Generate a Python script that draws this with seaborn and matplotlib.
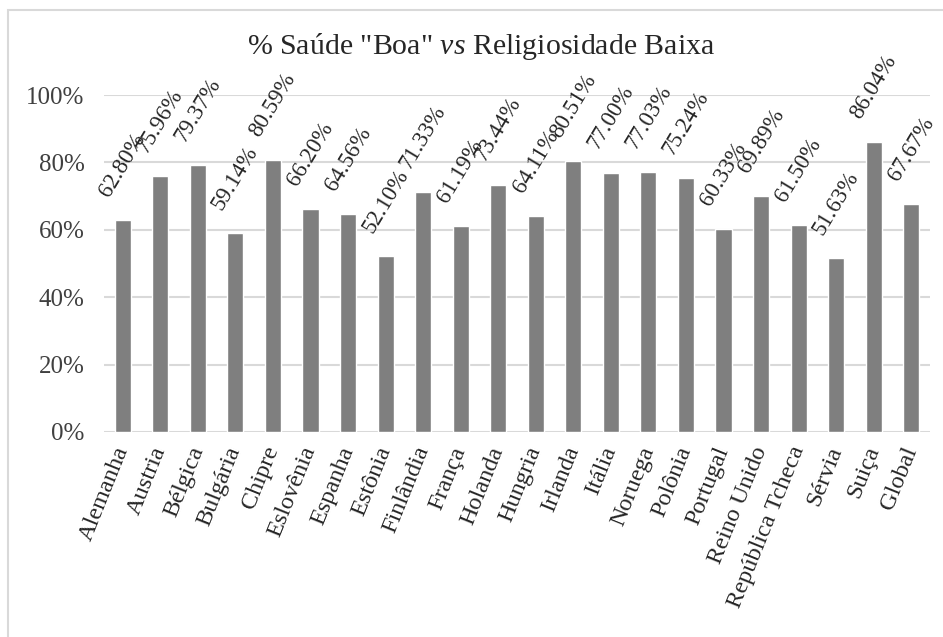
import matplotlib
matplotlib.use("Agg")
import matplotlib.pyplot as plt
import seaborn as sns
import pandas as pd
from matplotlib.patches import Rectangle
from matplotlib.ticker import PercentFormatter

# data
paises = ["Alemanha", "Austria", "Bélgica", "Bulgária", "Chipre", "Eslovênia",
          "Espanha", "Estônia", "Finlândia", "França", "Holanda", "Hungria",
          "Irlanda", "Itália", "Noruega", "Polônia", "Portugal", "Reino Unido",
          "República Tcheca", "Sérvia", "Suiça", "Global"]
saude_boa = [62.80, 75.96, 79.37, 59.14, 80.59, 66.20, 64.56, 52.10, 71.33, 61.19,
             73.44, 64.11, 80.51, 77.00, 77.03, 75.24, 60.33, 69.89, 61.50, 51.63,
             86.04, 67.67]
titulo = '% Saúde "Boa" $\\mathit{vs}$ Religiosidade Baixa'

df = pd.DataFrame({"pais": paises, "valor": [v / 100 for v in saude_boa]})

sns.set_style("white")
plt.rcParams["font.family"] = ["Liberation Serif", "DejaVu Serif"]
plt.rcParams["mathtext.fontset"] = "custom"
plt.rcParams["mathtext.rm"] = "Liberation Serif"
plt.rcParams["mathtext.it"] = "Liberation Serif:italic"

fig = plt.figure(figsize=(9.43, 6.37), dpi=100)
ax = fig.add_axes([104 / 943, 205 / 637, 826 / 943, 337 / 637])

sns.barplot(data=df, x="pais", y="valor", color="#7f7f7f", saturation=1,
            width=0.43, ax=ax)

ax.set_ylim(0, 1)
ax.set_xlim(-0.5, len(paises) - 0.5)
ax.set_yticks([0, 0.2, 0.4, 0.6, 0.8, 1.0])
ax.yaxis.set_major_formatter(PercentFormatter(1.0, decimals=0))
ax.grid(axis="y", color="#d9d9d9", linewidth=1.5)
ax.set_axisbelow(True)
for s in ax.spines.values():
    s.set_visible(False)
ax.set_xlabel("")
ax.set_ylabel("")
ax.tick_params(axis="y", length=0, pad=14, labelsize=18, labelcolor="#404040")
ax.tick_params(axis="x", length=0, pad=11, labelsize=17.5, labelcolor="#262626")
for lbl in ax.get_xticklabels():
    lbl.set_rotation(68)
    lbl.set_ha("right")
    lbl.set_va("center")
    lbl.set_rotation_mode("anchor")

for i, v in enumerate(saude_boa):
    ax.annotate(f"{v:.2f}%", (i, v / 100), xytext=(0, 14), textcoords="offset points",
                rotation=59, ha="center", va="bottom", fontsize=16.5,
                color="#262626", annotation_clip=False)

fig.text(481 / 943, 1 - 47 / 637, titulo, ha="center", va="center",
         fontsize=21.5, color="#262626")

# light frame around the chart area
fig.patches.append(Rectangle((8 / 943, -0.1), 1.2, 1 - 10 / 637 + 0.1,
                             transform=fig.transFigure, fill=False,
                             edgecolor="#d9d9d9", linewidth=1.5))

fig.savefig("out.png", dpi=100)
